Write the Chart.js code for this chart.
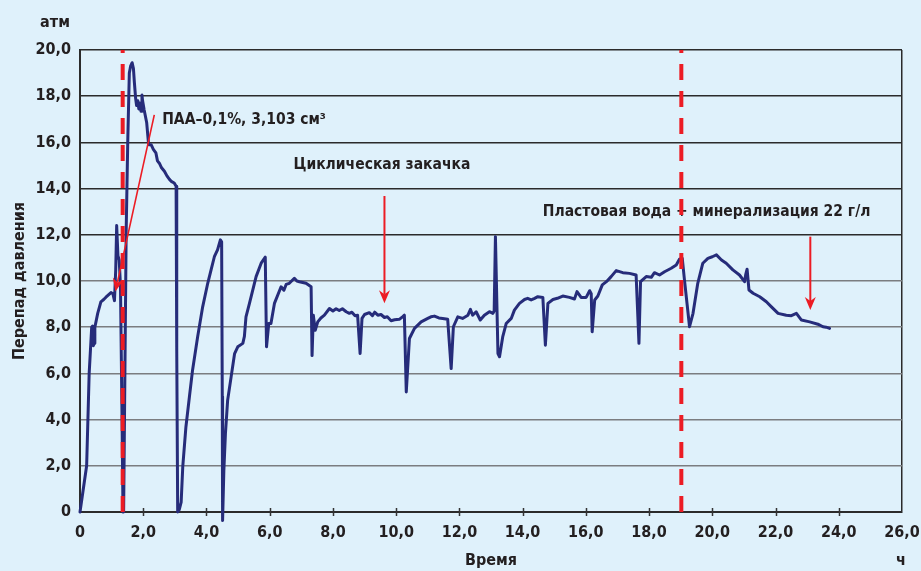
<!DOCTYPE html>
<html lang="ru">
<head>
<meta charset="utf-8">
<title>Перепад давления</title>
<script src="https://cdn.jsdelivr.net/npm/chart.js@4/dist/chart.umd.min.js"></script>
<style>
  html, body { margin: 0; padding: 0; background: #dff1fb; }
  #wrap { width: 921px; height: 571px; position: relative; }
</style>
</head>
<body>
<div id="wrap"><canvas id="chart" width="921" height="571"></canvas></div>
<script>
// Time, hours
const timeHours = [
  0, 0.21, 0.29, 0.37, 0.40, 0.42, 0.45, 0.47, 0.56, 0.66, 0.75, 0.82, 0.90, 0.98, 1.04, 1.09,
  1.13, 1.16, 1.20, 1.24, 1.28, 1.33, 1.36,
  1.38, 1.42, 1.46, 1.51, 1.56, 1.60, 1.65, 1.69, 1.72, 1.76, 1.79, 1.83, 1.86, 1.90, 1.93, 1.96,
  1.98, 2.03, 2.11, 2.17, 2.25, 2.32, 2.40, 2.45, 2.51, 2.58, 2.67, 2.75, 2.83, 2.90, 2.98, 3.04,
  3.06, 3.09, 3.14, 3.20, 3.25, 3.35, 3.46, 3.56, 3.72, 3.88, 4.04, 4.15, 4.25, 4.35, 4.44, 4.48,
  4.50, 4.51, 4.55, 4.60, 4.67, 4.78, 4.89, 4.99, 5.15, 5.20, 5.25, 5.36, 5.57, 5.73, 5.86,
  5.90, 5.97, 6.04, 6.15, 6.36, 6.45, 6.52, 6.62, 6.78, 6.86, 6.94, 7.15, 7.31,
  7.34, 7.38, 7.44, 7.52, 7.62, 7.73, 7.89, 8.00, 8.10, 8.20, 8.30, 8.42, 8.52, 8.60, 8.70, 8.78,
  8.86, 8.92, 9.00, 9.15, 9.25, 9.32, 9.42, 9.52, 9.63, 9.72, 9.84, 9.95, 10.10, 10.20, 10.26,
  10.32, 10.42, 10.58, 10.79, 11.00, 11.10, 11.21, 11.35, 11.47, 11.63,
  11.74, 11.81, 11.95, 12.10, 12.27, 12.35, 12.42, 12.53, 12.66, 12.79, 12.95, 13.06, 13.10,
  13.14, 13.22, 13.27, 13.37, 13.48, 13.64, 13.74, 13.90, 14.06, 14.16, 14.27, 14.38, 14.48, 14.64,
  14.72, 14.80, 14.96, 15.10, 15.27, 15.48, 15.64, 15.72, 15.85, 16.01, 16.12, 16.17,
  16.20, 16.28, 16.38, 16.52, 16.65, 16.80, 16.96, 17.17, 17.38, 17.59,
  17.68, 17.73, 17.91, 18.07, 18.17, 18.33, 18.49, 18.70, 18.86, 18.96, 19.05,
  19.12, 19.28, 19.39, 19.54, 19.70, 19.86, 20.00, 20.13, 20.29, 20.44, 20.65, 20.86, 21.02,
  21.06, 21.10, 21.16, 21.29, 21.50, 21.71, 21.87, 22.08, 22.34, 22.50, 22.66, 22.82, 23.08,
  23.34, 23.50, 23.60, 23.71
];

// Pressure drop, atm
const pressureDrop = [
  0, 2.0, 6.0, 8.0, 8.05, 7.2, 7.3, 8.0, 8.6, 9.1, 9.2, 9.3, 9.4, 9.5, 9.45, 9.15,
  10.5, 12.4, 11.1, 10.9, 9.8, 4.0, 0,
  0, 6.0, 12.1, 16.0, 19.0, 19.3, 19.45, 19.2, 18.6, 17.9, 17.6, 17.8, 17.45, 17.7, 17.35, 18.05,
  17.8, 17.4, 16.85, 15.9, 15.9, 15.7, 15.55, 15.2, 15.1, 14.9, 14.75, 14.55, 14.4, 14.3, 14.24, 14.1,
  7.0, 0, 0.1, 0.43, 1.95, 3.68, 4.98, 6.14, 7.58, 8.88, 9.9, 10.5, 11.05, 11.35, 11.78, 11.7,
  5.0, -0.37, 1.8, 3.39, 4.84, 5.85, 6.86, 7.15, 7.3, 7.6, 8.45, 9.03, 10.19, 10.77, 11.03,
  7.15, 8.16, 8.16, 9.03, 9.75, 9.6, 9.85, 9.9, 10.12, 10.0, 9.97, 9.9, 9.75,
  6.77, 8.52, 7.87, 8.23, 8.4, 8.52, 8.81, 8.7, 8.8, 8.72, 8.8, 8.67, 8.6, 8.65, 8.5, 8.52,
  6.86, 8.38, 8.55, 8.63, 8.5, 8.65, 8.52, 8.55, 8.42, 8.45, 8.28, 8.32, 8.34, 8.45, 8.52,
  5.2, 7.51, 7.95, 8.23, 8.38, 8.45, 8.48, 8.4, 8.38, 8.34,
  6.21, 8.02, 8.45, 8.38, 8.52, 8.77, 8.52, 8.67, 8.31, 8.52, 8.67, 8.6, 8.7,
  11.92, 6.86, 6.72, 7.58, 8.16, 8.38, 8.74, 9.03, 9.2, 9.25, 9.18, 9.25, 9.32, 9.29,
  7.22, 9.03, 9.2, 9.25, 9.35, 9.29, 9.22, 9.54, 9.29, 9.29, 9.58, 9.45,
  7.8, 9.18, 9.35, 9.83, 9.97, 10.19, 10.45, 10.36, 10.33, 10.26,
  7.3, 9.97, 10.19, 10.16, 10.36, 10.26, 10.4, 10.55, 10.69, 10.94, 10.98,
  10.04, 8.02, 8.6, 9.9, 10.77, 10.98, 11.05, 11.13, 10.91, 10.77, 10.48, 10.26, 9.97,
  10.3, 10.51, 9.61, 9.47, 9.32, 9.1, 8.88, 8.6, 8.52, 8.5, 8.6, 8.31, 8.23,
  8.13, 8.02, 8.0, 7.95
];

// Axis ranges and tick steps
const timeRange = [0, 26];
const timeStep = 2;
const pressureRange = [0, 20];
const pressureStep = 2;

// Moments when the injected fluid changes, hours
const switchTimes = [1.35, 19.02];

// Captions with their pointers (data coordinates)
const captions = [
  { text: 'ПАА–0,1%, 3,103 см³', x: 2.6, y: 16.95, align: 'left' },
  { text: 'Циклическая закачка', x: 9.55, y: 15.02, align: 'center' },
  { text: 'Пластовая вода + минерализация 22 г/л', x: 19.82, y: 12.98, align: 'center' }
];
const pointers = [
  { from: [2.35, 17.19], to: [1.12, 9.55], width: 1.6 },
  { from: [9.63, 13.68], to: [9.63, 9.04], width: 2 },
  { from: [23.1, 11.92], to: [23.1, 8.74], width: 2 }
];

const INK = '#231f20';
const NAVY = '#262c7a';
const RED = '#ec1c24';
const FONT = '"DejaVu Sans Condensed", "Liberation Sans Narrow", sans-serif';

const fmt = v => v === 0 ? '0' : v.toFixed(1).replace('.', ',');

function arrow(ctx, x1, y1, x2, y2, lw) {
  const a = Math.atan2(y2 - y1, x2 - x1);
  const L = 13, W = 5.5, N = 4;
  const cx = Math.cos(a), cy = Math.sin(a);
  ctx.save();
  ctx.strokeStyle = RED; ctx.fillStyle = RED; ctx.lineWidth = lw;
  ctx.beginPath();
  ctx.moveTo(x1, y1);
  ctx.lineTo(x2 - (L - N) * cx, y2 - (L - N) * cy);
  ctx.stroke();
  ctx.beginPath();
  ctx.moveTo(x2, y2);
  ctx.lineTo(x2 - L * cx - W * cy, y2 - L * cy + W * cx);
  ctx.lineTo(x2 - (L - N) * cx, y2 - (L - N) * cy);
  ctx.lineTo(x2 - L * cx + W * cy, y2 - L * cy - W * cx);
  ctx.closePath();
  ctx.fill();
  ctx.restore();
}

const decor = {
  id: 'decor',
  afterDatasetsDraw(chart) {
    const { ctx, chartArea: ca, scales: { x, y } } = chart;
    ctx.save();

    // tick marks crossing the time axis
    ctx.strokeStyle = '#333';
    ctx.lineWidth = 1.5;
    for (let t = timeRange[0] + timeStep; t < timeRange[1]; t += timeStep) {
      const px = Math.round(x.getPixelForValue(t)) + 0.5;
      ctx.beginPath();
      ctx.moveTo(px, ca.bottom - 4);
      ctx.lineTo(px, ca.bottom + 4);
      ctx.stroke();
    }

    // captions
    ctx.fillStyle = INK;
    ctx.font = 'bold 15.5px ' + FONT;
    ctx.textBaseline = 'middle';
    captions.forEach(c => {
      ctx.textAlign = c.align;
      ctx.fillText(c.text, x.getPixelForValue(c.x), y.getPixelForValue(c.y));
    });

    // unit labels
    ctx.font = 'bold 16px ' + FONT;
    ctx.textAlign = 'center';
    ctx.fillText('атм', ca.left - 25, ca.top - 27);
    ctx.fillText('ч', ca.right - 1, ca.bottom + 49);

    // pointers
    pointers.forEach(p => arrow(ctx,
      x.getPixelForValue(p.from[0]), y.getPixelForValue(p.from[1]),
      x.getPixelForValue(p.to[0]), y.getPixelForValue(p.to[1]), p.width));

    // dashed markers of fluid change
    ctx.strokeStyle = RED;
    ctx.lineWidth = 4;
    ctx.setLineDash([16, 11]);
    switchTimes.forEach(t => {
      const px = x.getPixelForValue(t);
      ctx.beginPath();
      ctx.moveTo(px, ca.bottom);
      ctx.lineTo(px, ca.top);
      ctx.stroke();
    });
    ctx.restore();
  }
};

const points = timeHours.map((t, i) => ({ x: t, y: pressureDrop[i] }));

new Chart(document.getElementById('chart'), {
  type: 'line',
  data: {
    datasets: [{
      data: points,
      borderColor: NAVY,
      borderWidth: 3,
      pointRadius: 0,
      tension: 0,
      borderJoinStyle: 'round',
      borderCapStyle: 'round',
      clip: false
    }]
  },
  options: {
    responsive: false,
    animation: false,
    devicePixelRatio: 1,
    layout: { padding: { left: 0, right: 19, top: 50, bottom: 0 } },
    plugins: { legend: { display: false }, tooltip: { enabled: false } },
    scales: {
      x: {
        type: 'linear',
        min: timeRange[0], max: timeRange[1],
        afterFit(s) { s.height = 59; s.paddingLeft = 0; s.paddingRight = 0; },
        border: { display: true, color: '#2b2b2b', width: 2 },
        grid: {
          drawTicks: false,
          color: c => c.tick && c.tick.value === timeRange[1] ? '#2b2b2b' : 'rgba(0,0,0,0)',
          lineWidth: 1.5
        },
        ticks: {
          stepSize: timeStep,
          padding: 11,
          color: INK,
          font: { family: FONT, size: 16, weight: 'bold' },
          callback: v => fmt(v),
          maxRotation: 0
        },
        title: {
          display: true, text: 'Время', color: INK,
          font: { family: FONT, size: 16, weight: 'bold' },
          padding: { top: 0, bottom: 1 }
        }
      },
      y: {
        min: pressureRange[0], max: pressureRange[1],
        afterFit(s) { s.width = 80; s.paddingTop = 0; s.paddingBottom = 0; },
        border: { display: true, color: '#2b2b2b', width: 2 },
        grid: {
          drawTicks: false,
          color: c => c.tick && c.tick.value >= 12 ? '#2b2b2b' : '#7b7d80',
          lineWidth: 1.5
        },
        ticks: {
          stepSize: pressureStep,
          padding: 9,
          color: INK,
          font: { family: FONT, size: 16, weight: 'bold' },
          callback: v => fmt(v)
        },
        title: {
          display: true, text: 'Перепад давления', color: INK,
          font: { family: FONT, size: 16, weight: 'bold' },
          padding: { top: 10, bottom: 0 }
        }
      }
    }
  },
  plugins: [decor]
});
</script>
</body>
</html>
